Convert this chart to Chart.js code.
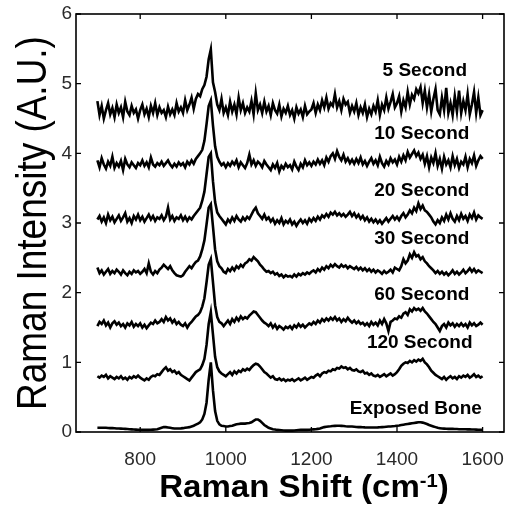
<!DOCTYPE html>
<html>
<head>
<meta charset="utf-8">
<script src="https://cdn.jsdelivr.net/npm/chart.js@4.4.1/dist/chart.umd.min.js"></script>
<style>
  html, body { margin: 0; padding: 0; background: #fff; }
  #wrap { width: 509px; height: 514px; }
</style>
</head>
<body>
<div id="wrap"><canvas id="myChart" width="509" height="514"></canvas></div>
<script>
// Raman spectra of bone at increasing exposure times (stacked, offset)

// Raman shift, cm-1 (700 .. 1600, every 5)
const shift = [
    700, 705, 710, 715, 720, 725, 730, 735, 740, 745,
    750, 755, 760, 765, 770, 775, 780, 785, 790, 795,
    800, 805, 810, 815, 820, 825, 830, 835, 840, 845,
    850, 855, 860, 865, 870, 875, 880, 885, 890, 895,
    900, 905, 910, 915, 920, 925, 930, 935, 940, 945,
    950, 955, 960, 965, 970, 975, 980, 985, 990, 995,
    1000, 1005, 1010, 1015, 1020, 1025, 1030, 1035, 1040, 1045,
    1050, 1055, 1060, 1065, 1070, 1075, 1080, 1085, 1090, 1095,
    1100, 1105, 1110, 1115, 1120, 1125, 1130, 1135, 1140, 1145,
    1150, 1155, 1160, 1165, 1170, 1175, 1180, 1185, 1190, 1195,
    1200, 1205, 1210, 1215, 1220, 1225, 1230, 1235, 1240, 1245,
    1250, 1255, 1260, 1265, 1270, 1275, 1280, 1285, 1290, 1295,
    1300, 1305, 1310, 1315, 1320, 1325, 1330, 1335, 1340, 1345,
    1350, 1355, 1360, 1365, 1370, 1375, 1380, 1385, 1390, 1395,
    1400, 1405, 1410, 1415, 1420, 1425, 1430, 1435, 1440, 1445,
    1450, 1455, 1460, 1465, 1470, 1475, 1480, 1485, 1490, 1495,
    1500, 1505, 1510, 1515, 1520, 1525, 1530, 1535, 1540, 1545,
    1550, 1555, 1560, 1565, 1570, 1575, 1580, 1585, 1590, 1595,
    1600
];

const sec5 = [
    4.75, 4.55, 4.68, 4.50, 4.62, 4.72, 4.56, 4.65, 4.52, 4.70,
    4.58, 4.66, 4.52, 4.74, 4.60, 4.55, 4.68, 4.58, 4.63, 4.50,
    4.62, 4.70, 4.56, 4.64, 4.52, 4.68, 4.58, 4.72, 4.55, 4.66,
    4.58, 4.62, 4.52, 4.67, 4.56, 4.63, 4.55, 4.72, 4.60, 4.66,
    4.58, 4.76, 4.62, 4.70, 4.80, 4.64, 4.78, 4.85, 4.82, 4.92,
    4.98, 5.10, 5.35, 5.49, 5.02, 4.88, 4.70, 4.62, 4.78, 4.58,
    4.66, 4.55, 4.74, 4.60, 4.70, 4.56, 4.80, 4.62, 4.72, 4.58,
    4.66, 4.60, 4.75, 4.56, 4.86, 4.62, 4.70, 4.58, 4.74, 4.60,
    4.68, 4.55, 4.72, 4.62, 4.57, 4.70, 4.53, 4.64, 4.58, 4.68,
    4.55, 4.62, 4.50, 4.66, 4.57, 4.63, 4.52, 4.68, 4.56, 4.60,
    4.63, 4.72, 4.58, 4.70, 4.62, 4.76, 4.66, 4.80, 4.64, 4.72,
    4.68, 4.85, 4.66, 4.75, 4.62, 4.78, 4.70, 4.74, 4.58, 4.68,
    4.60, 4.72, 4.55, 4.66, 4.58, 4.70, 4.52, 4.64, 4.56, 4.68,
    4.60, 4.76, 4.55, 4.70, 4.62, 4.80, 4.64, 4.74, 4.85, 4.66,
    4.72, 4.82, 4.60, 4.76, 4.66, 4.88, 4.70, 4.84, 4.78, 4.92,
    4.86, 4.95, 4.72, 4.90, 4.66, 4.85, 4.60, 4.78, 4.92, 4.62,
    4.56, 4.80, 4.62, 4.94, 4.58, 4.72, 4.55, 4.82, 4.60, 4.90,
    4.58, 4.75, 4.62, 4.85, 4.56, 4.70, 4.88, 4.58, 4.80, 4.55,
    4.62
];

const sec10 = [
    3.90, 3.80, 3.93, 3.84, 3.78, 3.88, 3.82, 3.95, 3.79, 3.86,
    3.81, 3.89, 3.76, 3.92, 3.84, 3.80, 3.87, 3.83, 3.79, 3.86,
    3.83, 3.90, 3.82, 3.87, 3.80, 3.94, 3.84, 3.81, 3.86, 3.83,
    3.88, 3.82, 3.86, 3.90, 3.84, 3.80, 3.85, 3.81, 3.87, 3.83,
    3.86, 3.80, 3.88, 3.84, 3.90, 3.85, 3.92, 3.96, 4.00, 4.05,
    4.18, 4.42, 4.68, 4.76, 4.40, 4.10, 3.95, 3.88, 3.83, 3.86,
    3.80, 3.86, 3.82, 3.88, 3.84, 3.90, 3.80, 3.87, 3.83, 3.79,
    3.86, 3.98, 3.84, 3.90, 3.82, 3.88, 3.85, 3.80, 3.89, 3.84,
    3.80, 3.76, 3.84, 3.79, 3.86, 3.74, 3.82, 3.78, 3.85, 3.80,
    3.83, 3.77, 3.88, 3.81, 3.76, 3.85, 3.80, 3.90, 3.83, 3.87,
    3.82, 3.88, 3.84, 3.91, 3.85, 3.90, 3.83, 3.94, 3.88, 3.96,
    4.00, 3.92, 4.03, 3.95, 3.90, 3.98, 3.88, 3.93, 3.86, 3.91,
    3.85, 3.92, 3.86, 3.94, 3.84, 3.89, 3.82, 3.88, 3.93, 3.85,
    3.90, 3.83, 3.95, 3.86, 3.81, 3.89, 3.84, 3.93, 3.87, 3.91,
    3.84, 3.95, 3.88, 3.97, 3.90, 4.02, 3.94, 3.99, 4.04, 3.96,
    4.01, 3.92, 3.98, 3.85, 3.96, 3.80, 3.94, 3.86, 4.00, 3.82,
    3.92, 3.78, 3.95, 3.84, 3.90, 3.80, 3.96, 3.83, 3.92, 3.79,
    3.88, 3.84, 3.95, 3.80, 3.92, 3.86, 3.97, 3.82, 3.90, 3.96,
    3.92
];

const sec20 = [
    3.05, 3.10, 3.02, 3.08, 3.00, 3.12, 3.04, 3.09, 3.01, 3.06,
    3.11, 3.03, 3.08, 3.14, 3.02, 3.07, 3.00, 3.10, 3.05, 3.12,
    3.04, 3.09, 3.02, 3.07, 3.12, 3.05, 3.10, 3.03, 3.08, 3.06,
    3.11, 3.04, 3.09, 3.22, 3.05, 3.10, 3.03, 3.08, 3.06, 3.11,
    3.04, 3.09, 3.03, 3.08, 3.05, 3.10, 3.14, 3.18, 3.22, 3.32,
    3.45, 3.70, 3.95, 4.00, 3.60, 3.30, 3.15, 3.10, 3.06, 3.02,
    2.98, 3.05, 3.01, 3.08, 3.03, 3.10, 3.05, 3.02, 3.08, 3.04,
    3.09, 3.06, 3.12, 3.18, 3.22, 3.14, 3.10, 3.06, 3.12, 3.05,
    3.08, 3.02, 3.06, 2.99, 3.04, 3.00, 3.07, 2.98, 3.03, 3.00,
    3.05, 2.98, 3.02, 2.96, 3.01, 3.05, 3.00, 3.04, 2.99, 3.06,
    3.02, 3.07, 3.03, 3.09, 3.05, 3.11, 3.08, 3.13, 3.09, 3.15,
    3.12, 3.16, 3.11, 3.14, 3.10, 3.13, 3.09, 3.12, 3.16, 3.10,
    3.14, 3.08, 3.12, 3.06, 3.10, 3.04, 3.08, 3.02, 3.06, 3.01,
    3.05, 3.00, 3.04, 2.99, 3.03, 3.07, 3.02, 3.06, 3.10, 3.05,
    3.09, 3.04, 3.10, 3.14, 3.08, 3.12, 3.18, 3.14, 3.22, 3.17,
    3.28, 3.20, 3.25, 3.18, 3.16, 3.12, 3.08, 3.02, 2.98, 3.04,
    3.00, 3.08, 3.03, 3.12, 3.05, 3.14, 3.06, 3.02, 3.10, 3.04,
    3.13, 3.06, 3.10, 3.03, 3.12, 3.07, 3.15, 3.05, 3.11, 3.08,
    3.06
];

const sec30 = [
    2.36, 2.28, 2.32, 2.26, 2.30, 2.34, 2.27, 2.31, 2.28, 2.33,
    2.30, 2.26, 2.32, 2.28, 2.25, 2.30, 2.27, 2.32, 2.29, 2.31,
    2.27, 2.30, 2.34, 2.28, 2.42, 2.30, 2.26, 2.31, 2.28, 2.33,
    2.36, 2.40, 2.37, 2.34, 2.38, 2.32, 2.28, 2.25, 2.24, 2.23,
    2.25, 2.30, 2.34, 2.38, 2.35, 2.40, 2.44, 2.46, 2.52, 2.62,
    2.75, 2.98, 3.22, 3.27, 2.95, 2.62, 2.45, 2.38, 2.35, 2.30,
    2.28, 2.34, 2.31, 2.36, 2.32, 2.38, 2.35, 2.40, 2.37, 2.42,
    2.44, 2.48, 2.46, 2.51, 2.48, 2.45, 2.40, 2.37, 2.33, 2.30,
    2.31, 2.28, 2.30, 2.26, 2.28, 2.24, 2.26, 2.22, 2.25, 2.23,
    2.24, 2.22, 2.26, 2.23, 2.27, 2.25, 2.28, 2.26, 2.29, 2.27,
    2.30, 2.32, 2.29, 2.34, 2.31, 2.36, 2.33, 2.38, 2.35, 2.40,
    2.37, 2.41, 2.38, 2.36, 2.40, 2.37, 2.39, 2.35, 2.38, 2.36,
    2.34, 2.37, 2.33, 2.36, 2.32, 2.35, 2.31, 2.34, 2.30, 2.33,
    2.29, 2.32, 2.30, 2.27, 2.31, 2.28, 2.30, 2.33, 2.29, 2.36,
    2.34, 2.32, 2.38, 2.48, 2.42, 2.46, 2.55, 2.50, 2.58, 2.52,
    2.54, 2.48, 2.51, 2.45, 2.42, 2.38, 2.35, 2.32, 2.28, 2.31,
    2.27, 2.30, 2.26, 2.29, 2.25, 2.28, 2.32, 2.27, 2.30, 2.26,
    2.29, 2.33, 2.28, 2.31, 2.35, 2.30, 2.34, 2.29, 2.32, 2.30,
    2.28
];

const sec60 = [
    1.52, 1.58, 1.55, 1.60, 1.53, 1.57, 1.50, 1.56, 1.59, 1.54,
    1.57, 1.52, 1.55, 1.50, 1.56, 1.53, 1.58, 1.51, 1.55, 1.52,
    1.56, 1.50, 1.54, 1.49, 1.53, 1.57, 1.55, 1.60, 1.56, 1.58,
    1.62, 1.58, 1.65, 1.60, 1.63, 1.57, 1.61, 1.55, 1.58, 1.54,
    1.52, 1.56, 1.50, 1.55, 1.58, 1.62, 1.66, 1.68, 1.72, 1.80,
    1.92, 2.15, 2.40, 2.48, 2.15, 1.82, 1.65, 1.58, 1.56, 1.52,
    1.56, 1.60, 1.55, 1.62, 1.58, 1.64, 1.60, 1.66, 1.62, 1.65,
    1.63, 1.67, 1.70, 1.73, 1.72, 1.68, 1.64, 1.60, 1.57, 1.55,
    1.52, 1.56, 1.50, 1.54, 1.48, 1.52, 1.50, 1.47, 1.51, 1.49,
    1.52, 1.48, 1.53, 1.50, 1.55, 1.51, 1.54, 1.50, 1.53, 1.56,
    1.54, 1.58, 1.55, 1.60, 1.57, 1.62, 1.59, 1.63, 1.60, 1.64,
    1.61, 1.65, 1.60, 1.63, 1.58, 1.62, 1.59, 1.64, 1.60, 1.57,
    1.60, 1.56, 1.59, 1.55, 1.57, 1.53, 1.56, 1.52, 1.58, 1.54,
    1.57, 1.53, 1.60, 1.55, 1.62, 1.56, 1.45, 1.58, 1.60, 1.63,
    1.62, 1.66, 1.64, 1.70, 1.72, 1.68, 1.76, 1.73, 1.78, 1.75,
    1.77, 1.74, 1.78, 1.73, 1.70, 1.66, 1.62, 1.58, 1.55, 1.50,
    1.45, 1.52, 1.55, 1.50, 1.57, 1.53, 1.56, 1.51, 1.55, 1.52,
    1.56, 1.52, 1.55, 1.50, 1.57, 1.53, 1.56, 1.52, 1.54, 1.57,
    1.54
];

const sec120 = [
    0.80, 0.78, 0.81, 0.79, 0.82, 0.77, 0.80, 0.78, 0.76, 0.79,
    0.77, 0.80, 0.76, 0.78, 0.75, 0.79, 0.77, 0.80, 0.78, 0.81,
    0.78, 0.76, 0.74, 0.77, 0.75, 0.79, 0.81, 0.80, 0.83, 0.82,
    0.86, 0.90, 0.93, 0.88, 0.90, 0.86, 0.88, 0.84, 0.86, 0.82,
    0.80, 0.78, 0.76, 0.74, 0.78, 0.82, 0.86, 0.88, 0.90, 0.96,
    1.05, 1.25, 1.55, 1.72, 1.40, 1.08, 0.93, 0.87, 0.84, 0.82,
    0.80, 0.83, 0.86, 0.82, 0.87, 0.84, 0.88, 0.86, 0.90, 0.88,
    0.91, 0.89, 0.93, 0.96, 0.98, 0.97, 0.94, 0.90, 0.86, 0.84,
    0.81, 0.78, 0.80, 0.76, 0.75, 0.77, 0.74, 0.76, 0.73, 0.75,
    0.74, 0.76, 0.73, 0.75, 0.77, 0.74, 0.76, 0.78, 0.75, 0.77,
    0.79, 0.78, 0.81, 0.83, 0.80, 0.84, 0.86, 0.85, 0.88, 0.87,
    0.90, 0.89, 0.92, 0.91, 0.94, 0.92, 0.93, 0.90, 0.92, 0.89,
    0.88, 0.90, 0.87, 0.86, 0.88, 0.84, 0.85, 0.82, 0.84, 0.81,
    0.80, 0.82, 0.79, 0.81, 0.83, 0.80, 0.82, 0.84, 0.81, 0.83,
    0.86, 0.90, 0.95, 0.98, 1.00, 0.99, 1.02, 1.00, 1.03, 1.01,
    1.04, 1.02, 1.05, 1.00, 0.97, 0.93, 0.88, 0.85, 0.82, 0.80,
    0.78, 0.76, 0.79, 0.75, 0.78, 0.80, 0.77, 0.79, 0.76, 0.80,
    0.78, 0.81, 0.79, 0.82, 0.78, 0.80, 0.83, 0.79, 0.81, 0.78,
    0.80
];

const bone = [
    0.060, 0.060, 0.060, 0.060, 0.060, 0.058, 0.056, 0.055, 0.053, 0.050,
    0.050, 0.048, 0.046, 0.045, 0.043, 0.040, 0.038, 0.036, 0.034, 0.032,
    0.030, 0.030, 0.030, 0.030, 0.030, 0.032, 0.034, 0.036, 0.040, 0.050,
    0.060, 0.070, 0.070, 0.065, 0.060, 0.055, 0.050, 0.050, 0.050, 0.052,
    0.055, 0.060, 0.065, 0.070, 0.080, 0.090, 0.105, 0.120, 0.140, 0.180,
    0.260, 0.420, 0.750, 1.000, 0.600, 0.300, 0.160, 0.110, 0.090, 0.085,
    0.080, 0.080, 0.085, 0.090, 0.100, 0.110, 0.115, 0.120, 0.120, 0.120,
    0.125, 0.130, 0.140, 0.160, 0.180, 0.180, 0.160, 0.130, 0.100, 0.080,
    0.060, 0.050, 0.040, 0.035, 0.030, 0.028, 0.025, 0.022, 0.020, 0.020,
    0.020, 0.020, 0.022, 0.025, 0.028, 0.030, 0.030, 0.030, 0.030, 0.032,
    0.035, 0.038, 0.040, 0.045, 0.050, 0.060, 0.070, 0.075, 0.080, 0.082,
    0.085, 0.088, 0.090, 0.090, 0.088, 0.085, 0.082, 0.080, 0.080, 0.078,
    0.075, 0.072, 0.070, 0.070, 0.068, 0.066, 0.065, 0.065, 0.065, 0.065,
    0.065, 0.066, 0.068, 0.070, 0.072, 0.075, 0.078, 0.080, 0.083, 0.086,
    0.090, 0.094, 0.100, 0.105, 0.110, 0.115, 0.120, 0.125, 0.130, 0.135,
    0.140, 0.140, 0.135, 0.125, 0.115, 0.100, 0.090, 0.080, 0.070, 0.060,
    0.055, 0.050, 0.048, 0.046, 0.045, 0.045, 0.045, 0.044, 0.042, 0.040,
    0.040, 0.040, 0.040, 0.038, 0.037, 0.036, 0.035, 0.034, 0.033, 0.032,
    0.030
];

const seriesNames = ['5 Second', '10 Second', '20 Second', '30 Second', '60 Second', '120 Second', 'Exposed Bone'];
const seriesValues = [sec5, sec10, sec20, sec30, sec60, sec120, bone];

const xTicks = [800, 1000, 1200, 1400, 1600];
const yTicks = [0, 1, 2, 3, 4, 5, 6];

// where each trace name sits, in axis units
const nameAnchors = [
    [1465, 5.19], [1458, 4.28], [1458, 3.46], [1458, 2.78],
    [1458, 1.97], [1453, 1.28], [1444, 0.34]
];

const FONT = '"Liberation Sans", Arial, Helvetica, sans-serif';

const datasets = seriesValues.map((vals, k) => ({
    label: seriesNames[k],
    data: shift.map((x, i) => ({ x: x, y: vals[i] })),
    borderColor: '#000',
    borderWidth: 2.6,
    pointRadius: 0,
    tension: 0,
    fill: false,
}));

// box, inward tick marks, axis titles and trace names
const decorations = {
    id: 'decorations',
    afterDraw(chart) {
        const c = chart.ctx;
        const a = chart.chartArea;
        const sx = chart.scales.x;
        const sy = chart.scales.y;
        c.save();
        c.strokeStyle = '#000';
        c.lineWidth = 1.6;
        c.strokeRect(a.left, a.top, a.right - a.left, a.bottom - a.top);
        c.lineWidth = 1.3;
        c.beginPath();
        xTicks.forEach(v => {
            const px = sx.getPixelForValue(v);
            c.moveTo(px, a.bottom); c.lineTo(px, a.bottom - 5);
            c.moveTo(px, a.top); c.lineTo(px, a.top + 5);
        });
        yTicks.forEach(v => {
            const py = sy.getPixelForValue(v);
            c.moveTo(a.left, py); c.lineTo(a.left + 5, py);
            c.moveTo(a.right, py); c.lineTo(a.right - 5, py);
        });
        c.stroke();

        // trace names
        c.fillStyle = '#000';
        c.font = 'bold 19px ' + FONT;
        c.textAlign = 'center';
        c.textBaseline = 'middle';
        seriesNames.forEach((name, k) => {
            c.fillText(name, sx.getPixelForValue(nameAnchors[k][0]), sy.getPixelForValue(nameAnchors[k][1]));
        });

        // y title
        c.save();
        c.translate(34, (a.top + a.bottom) / 2);
        c.rotate(-Math.PI / 2);
        c.scale(0.88, 1);
        c.font = '42px ' + FONT;
        c.textAlign = 'center';
        c.textBaseline = 'middle';
        c.fillText('Raman Intensity (A.U.)', 0, 0);
        c.restore();

        // x title with superscript
        const main = 'Raman Shift (cm';
        const sup = '-1';
        const tail = ')';
        c.save();
        c.textBaseline = 'alphabetic';
        c.textAlign = 'left';
        c.font = 'bold 31px ' + FONT;
        const wMain = c.measureText(main).width;
        const wTail = c.measureText(tail).width;
        c.font = 'bold 19px ' + FONT;
        const wSup = c.measureText(sup).width;
        const total = wMain + wSup + wTail;
        const cx = 304;
        const base = 497;
        c.translate(cx, base);
        c.scale(1.065, 1);
        const x0 = -total / 2;
        c.font = 'bold 31px ' + FONT;
        c.fillText(main, x0, 0);
        c.font = 'bold 19px ' + FONT;
        c.fillText(sup, x0 + wMain, -10);
        c.font = 'bold 31px ' + FONT;
        c.fillText(tail, x0 + wMain + wSup, 0);
        c.restore();
        c.restore();
    }
};

const myChart = new Chart(document.getElementById('myChart'), {
    type: 'line',
    data: { datasets: datasets },
    options: {
        responsive: false,
        animation: false,
        layout: { padding: { top: 14, right: 5, left: 0, bottom: 0 } },
        plugins: {
            legend: { display: false },
            tooltip: { enabled: false },
        },
        scales: {
            x: {
                type: 'linear',
                min: 650,
                max: 1650,
                afterBuildTicks: s => { s.ticks = xTicks.map(v => ({ value: v })); },
                afterFit: s => { s.height = 82; s.paddingLeft = 0; s.paddingRight = 0; },
                grid: { display: false, drawTicks: false },
                border: { display: false },
                ticks: {
                    font: { family: FONT, size: 19 },
                    color: '#2a2a2a',
                    padding: 16,
                    maxRotation: 0,
                    callback: v => String(v),
                },
            },
            y: {
                min: 0,
                max: 6,
                afterBuildTicks: s => { s.ticks = yTicks.map(v => ({ value: v })); },
                afterFit: s => { s.width = 76; s.paddingTop = 0; s.paddingBottom = 0; },
                grid: { display: false, drawTicks: false },
                border: { display: false },
                ticks: {
                    font: { family: FONT, size: 19 },
                    color: '#2a2a2a',
                    padding: 4,
                    callback: v => String(v),
                },
            },
        },
    },
    plugins: [decorations],
});
</script>
</body>
</html>
